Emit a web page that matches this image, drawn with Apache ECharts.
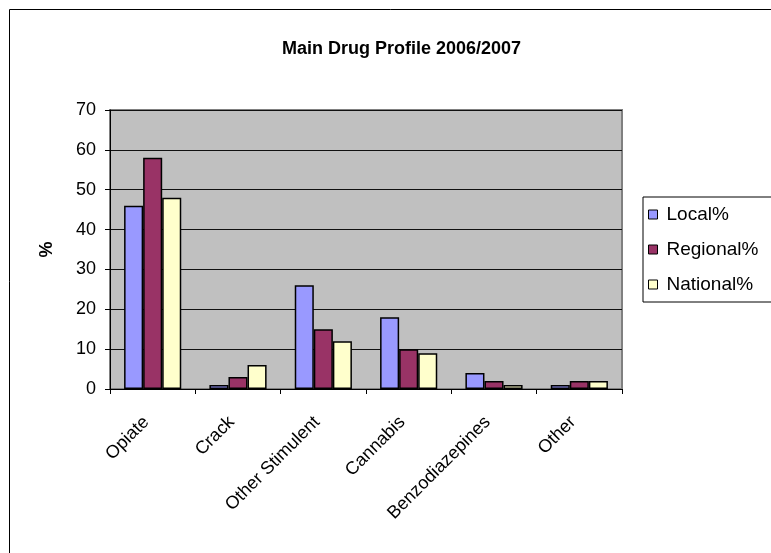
<!DOCTYPE html>
<html><head><meta charset="utf-8">
<script src="https://cdn.jsdelivr.net/npm/echarts@6/dist/echarts.min.js"></script>
<style>html,body{margin:0;padding:0;background:#fff}#c{width:771px;height:553px}</style>
</head><body><div id="c"></div>
<script>
var categories = ['Opiate','Crack','Other Stimulent','Cannabis','Benzodiazepines','Other'];
var local = [46, 1, 26, 18, 4, 1];
var regional = [58, 3, 15, 10, 2, 2];
var national = [48, 6, 12, 9, 1, 2];
var seriesNames = ['Local%','Regional%','National%'];
var yTicks = [0,10,20,30,40,50,60,70];

var colors = ['#9999FF','#993366','#FFFFCC'];
var font = 'Liberation Sans, Arial, sans-serif';
var chart = echarts.init(document.getElementById('c'));
function mk(name, data, color){
  return {name:name, type:'bar', data:data, barGap:'0%', barCategoryGap:'33%',
    itemStyle:{color:color, borderColor:'#000', borderWidth:1.5}, animation:false};
}
chart.setOption({
  animation:false,
  title:{text:'Main Drug Profile 2006/2007', left:277, top:35,
    textStyle:{fontFamily:font, fontWeight:'bold', fontSize:18, color:'#000'}},
  graphic:[{type:'rect', shape:{x:9.5,y:9.5,width:820,height:620}, style:{fill:'none', stroke:'#000', lineWidth:1}, z:-1}],
  legend:{orient:'vertical', left:643, top:197, itemWidth:9, itemHeight:9, itemGap:16,
    padding:[8,60,8,5], borderColor:'#000', borderWidth:1, backgroundColor:'#fff',
    icon:'rect', textStyle:{fontFamily:font, fontSize:19, color:'#000', padding:[0,0,0,4]},
    data:seriesNames, itemStyle:{borderColor:'#000', borderWidth:1}},
  grid:{left:110, right:771-622, top:110, bottom:553-389, containLabel:false, show:true, backgroundColor:'#C0C0C0', borderColor:'#808080', borderWidth:2},
  xAxis:{type:'category', data:categories, axisLine:{lineStyle:{color:'#000'}},
    axisTick:{show:true, length:5, lineStyle:{color:'#000'}},
    axisLabel:{rotate:45, fontFamily:font, fontSize:18, color:'#000', margin:24, interval:0, padding:[0,9,0,0]}},
  yAxis:{type:'value', min:0, max:70, interval:10, name:'%', nameLocation:'middle', nameGap:54,
    nameTextStyle:{fontFamily:font, fontWeight:'bold', fontSize:18, color:'#000'},
    axisLine:{show:true, lineStyle:{color:'#000'}}, axisTick:{show:true, length:5, lineStyle:{color:'#000'}},
    axisLabel:{fontFamily:font, fontSize:18, color:'#000', margin:14},
    splitLine:{lineStyle:{color:'#111', width:1}}},
  series:[mk(seriesNames[0], local, colors[0]), mk(seriesNames[1], regional, colors[1]), mk(seriesNames[2], national, colors[2])]
});
</script></body></html>
